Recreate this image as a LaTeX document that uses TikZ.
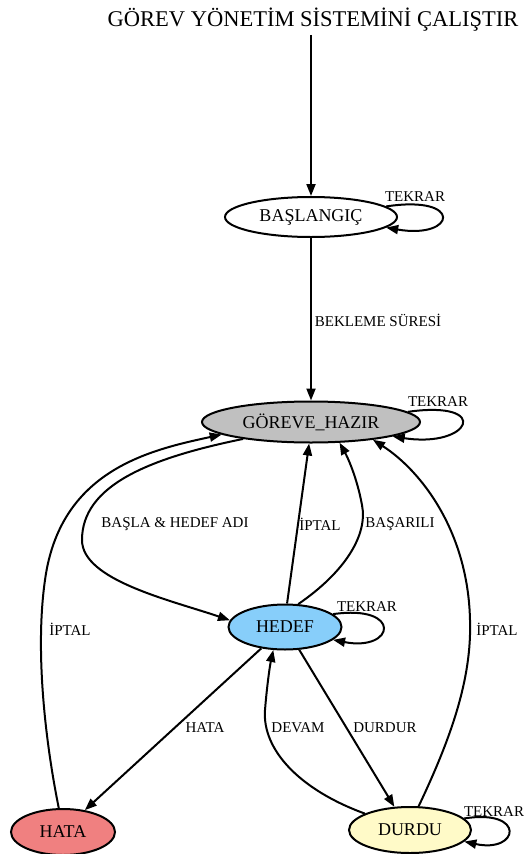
\documentclass[tikz,border=0pt]{standalone}
\usepackage{fontspec}
\setmainfont{Liberation Serif}
\usetikzlibrary{shapes.geometric,arrows.meta}
\definecolor{hazirgray}{HTML}{C0C0C0}
\definecolor{hedefblue}{HTML}{87CEFA}
\definecolor{hatared}{HTML}{F08080}
\definecolor{durduyellow}{HTML}{FFFAC8}
\begin{document}
\begin{tikzpicture}[x=1pt,y=-1pt,
    state/.style={ellipse,draw,line width=2pt,inner sep=0pt,font=\fontsize{18}{20}\selectfont},
    edge/.style={line width=2pt,-{Triangle[length=12pt,width=9pt]}},
    lbl/.style={font=\fontsize{15}{17}\selectfont,inner sep=1pt}]
    \useasboundingbox (0,0) rectangle (525,854);
    \node[font=\fontsize{22.5}{24}\selectfont,inner sep=3pt] (title) at (313,20) {GÖREV YÖNETİM SİSTEMİNİ ÇALIŞTIR};
    \node[state,fill=white,minimum width=172pt,minimum height=40pt] (bas) at (311,217) {BAŞLANGIÇ};
    \node[state,fill=hazirgray,minimum width=218pt,minimum height=41pt] (hazir) at (311,422) {GÖREVE\_HAZIR};
    \node[state,fill=hedefblue,minimum width=113pt,minimum height=45pt] (hedef) at (285,627) {HEDEF};
    \node[state,fill=hatared,minimum width=104pt,minimum height=46pt] (hata) at (63,832) {HATA};
    \node[state,fill=durduyellow,minimum width=122pt,minimum height=46pt] (durdu) at (410,830) {DURDU};
    \draw[edge] (title.south -| bas) -- (bas.north);
    \draw[edge] (bas.8) .. controls +(78,-12) and +(70,12) .. (bas.-8) node[lbl] (t1) at (415,197) {TEKRAR};
    \draw[edge] (bas.south) -- (hazir.north) node[lbl] (w1) at (378,320) {BEKLEME SÜRESİ};
    \draw[edge] (hazir.6) .. controls +(85,-12) and +(78,12) .. (hazir.-10) node[lbl] (t2) at (438,402) {TEKRAR};
    \draw[edge] (hazir.194) .. controls (150,458) and (82,485) .. (82,540) .. controls (82,580) and (170,600) .. (hedef.173) node[lbl] (b1) at (175,524) {BAŞLA \& HEDEF ADI};
    \draw[edge] (hedef.85) -- (hazir.-95) node[lbl] (i1) at (320,524) {İPTAL};
    \draw[edge] (hedef.60) .. controls (345,572) and (368,535) .. (362,505) .. controls (357,478) and (348,458) .. (hazir.-36) node[lbl] (s1) at (400,524) {BAŞARILI};
    \draw[edge] (hata.100) .. controls (45,740) and (35,650) .. (45,580) .. controls (60,470) and (150,450) .. (hazir.188) node[lbl] (i2) at (70,629) {İPTAL};
    \draw[edge] (durdu.70) .. controls (450,740) and (472,680) .. (470,620) .. controls (468,530) and (420,470) .. (hazir.-16) node[lbl] (i3) at (497,629) {İPTAL};
    \draw[edge] (hedef.15) .. controls +(70,-10) and +(62,12) .. (hedef.-15) node[lbl] (t3) at (367,607) {TEKRAR};
    \draw[edge] (hedef.222) -- (hata.45) node[lbl] (h1) at (205,728) {HATA};
    \draw[edge] (durdu.160) .. controls (300,790) and (262,750) .. (265,710) .. controls (267,685) and (270,665) .. (hedef.243) node[lbl] (d1) at (298,728) {DEVAM};
    \draw[edge] (hedef.-58) -- (durdu.124) node[lbl] (d2) at (385,728) {DURDUR};
    \draw[edge] (durdu.12) .. controls +(62,-10) and +(55,12) .. (durdu.-12) node[lbl] (t4) at (494,812) {TEKRAR};
\end{tikzpicture}
\end{document}
